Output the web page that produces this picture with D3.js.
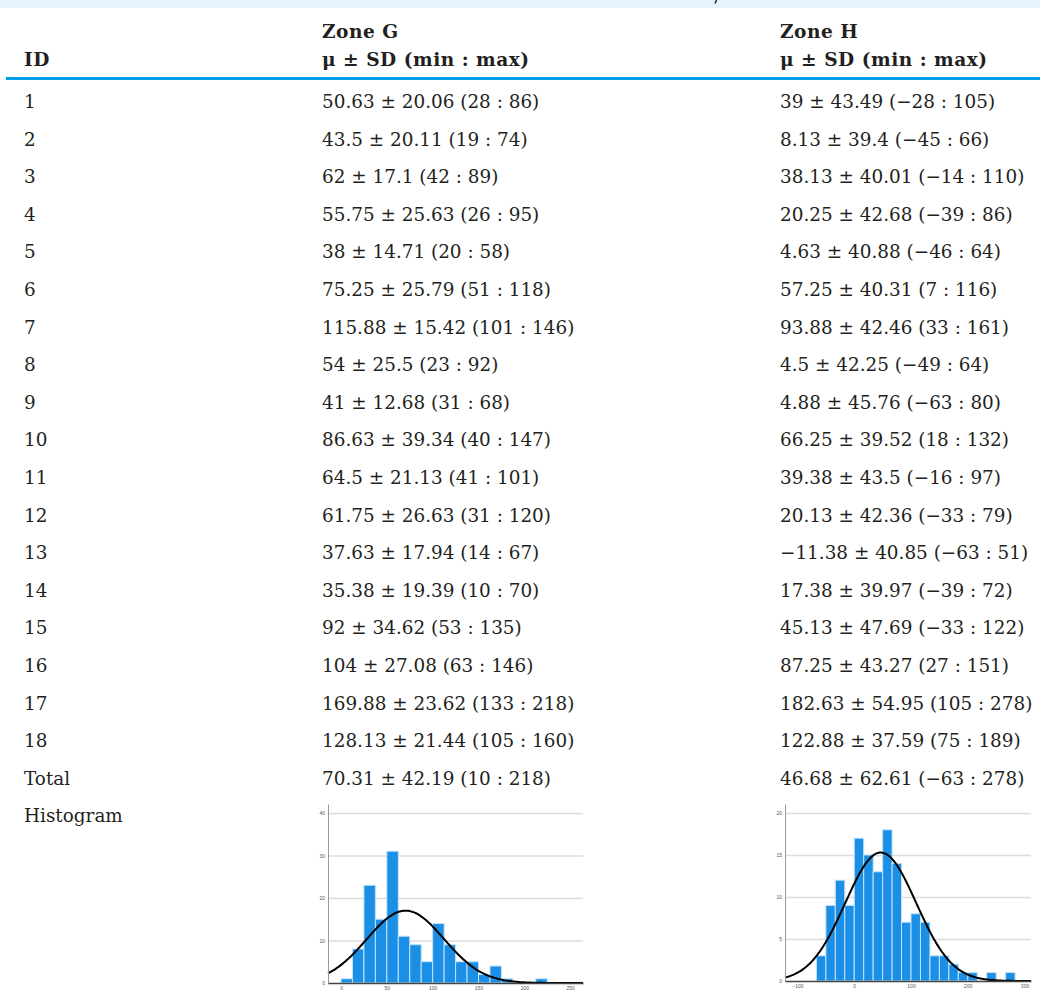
<!DOCTYPE html>
<html>
<head>
<meta charset="utf-8">
<script src="https://cdn.jsdelivr.net/npm/d3@7"></script>
<style>
  body { margin: 0; background: #fff; }
  svg { display: block; }
</style>
</head>
<body>
<div id="chart"></div>
<script>
// table rows
var idLabels = ["1", "2", "3", "4", "5", "6", "7", "8", "9", "10", "11", "12", "13", "14", "15", "16", "17", "18", "Total"];

// Zone G stats
var gMean = [50.63, 43.5, 62, 55.75, 38, 75.25, 115.88, 54, 41, 86.63, 64.5, 61.75, 37.63, 35.38, 92, 104, 169.88, 128.13, 70.31];
var gSd = [20.06, 20.11, 17.1, 25.63, 14.71, 25.79, 15.42, 25.5, 12.68, 39.34, 21.13, 26.63, 17.94, 19.39, 34.62, 27.08, 23.62, 21.44, 42.19];
var gMin = [28, 19, 42, 26, 20, 51, 101, 23, 31, 40, 41, 31, 14, 10, 53, 63, 133, 105, 10];
var gMax = [86, 74, 89, 95, 58, 118, 146, 92, 68, 147, 101, 120, 67, 70, 135, 146, 218, 160, 218];

// Zone H stats
var hMean = [39, 8.13, 38.13, 20.25, 4.63, 57.25, 93.88, 4.5, 4.88, 66.25, 39.38, 20.13, -11.38, 17.38, 45.13, 87.25, 182.63, 122.88, 46.68];
var hSd = [43.49, 39.4, 40.01, 42.68, 40.88, 40.31, 42.46, 42.25, 45.76, 39.52, 43.5, 42.36, 40.85, 39.97, 47.69, 43.27, 54.95, 37.59, 62.61];
var hMin = [-28, -45, -14, -39, -46, 7, 33, -49, -63, 18, -16, -33, -63, -39, -33, 27, 105, 75, -63];
var hMax = [105, 66, 110, 86, 64, 116, 161, 64, 80, 132, 97, 79, 51, 72, 122, 151, 278, 189, 278];

// histogram counts
var gCounts = [1, 8, 23, 15, 31, 11, 9, 5, 14, 9, 5, 5, 2, 4, 1, 0, 0, 1];
var gBinStart = 0, gBinWidth = 12.5;
var gXTicks = [0, 50, 100, 150, 200, 250];
var gYTicks = [0, 10, 20, 30, 40];

var hCounts = [3, 9, 12, 9, 17, 15, 13, 18, 14, 7, 8, 7, 3, 3, 2, 1, 1, 0, 1, 0, 1];
var hBinStart = -200 / 3, hBinWidth = 50 / 3;
var hXTicks = [-100, 0, 100, 200, 300];
var hYTicks = [0, 5, 10, 15, 20];

// ---- canvas ----
var svgWidth = 1040;
var svgHeight = 990;

var svg = d3.select("#chart")
    .append("svg")
    .attr("width", svgWidth)
    .attr("height", svgHeight)
    .style("background", "#fff");

var serif = "'DejaVu Serif', serif";
var colId = 24, colG = 322, colH = 780;

// top band (bottom of the caption above, cropped)
svg.append("rect")
    .attr("x", 0).attr("y", 0)
    .attr("width", svgWidth).attr("height", 8)
    .attr("fill", "#e6f3fc");
svg.append("path")
    .attr("d", "M716.5,0 L715,3.5")
    .attr("stroke", "#333")
    .attr("stroke-width", 1.6)
    .attr("fill", "none");

// header
var header = svg.append("g")
    .attr("font-family", serif)
    .attr("font-size", 18.6)
    .attr("font-weight", "bold")
    .attr("letter-spacing", 0.5)
    .attr("fill", "#231f20");
header.append("text").attr("x", colId).attr("y", 66).text("ID");
header.append("text").attr("x", colG).attr("y", 38).text("Zone G");
header.append("text").attr("x", colG).attr("y", 66).text("\u03bc \u00b1 SD (min : max)");
header.append("text").attr("x", colH).attr("y", 38).text("Zone H");
header.append("text").attr("x", colH).attr("y", 66).text("\u03bc \u00b1 SD (min : max)");

svg.append("rect")
    .attr("x", 6).attr("y", 77)
    .attr("width", svgWidth - 6).attr("height", 3)
    .attr("fill", "#00a0e9");

// rows
var rowNames = idLabels.concat(["Histogram"]);
var yRow = d3.scaleLinear()
    .domain([0, rowNames.length - 1])
    .range([108, 108 + (rowNames.length - 1) * 37.6]);

function fmt(v) {
    var s = String(Math.abs(v));
    return (v < 0 ? "\u2212" : "") + s;
}
function cell(mean, sd, mn, mx) {
    return fmt(mean) + " \u00b1 " + fmt(sd) + " (" + fmt(mn) + " : " + fmt(mx) + ")";
}

var body = svg.append("g")
    .attr("font-family", serif)
    .attr("font-size", 18.4)
    .attr("fill", "#231f20");

body.selectAll("text.id")
    .data(rowNames)
    .enter().append("text")
    .attr("class", "id")
    .attr("x", colId)
    .attr("y", (d, i) => yRow(i))
    .text(d => d);

body.selectAll("text.g")
    .data(idLabels)
    .enter().append("text")
    .attr("class", "g")
    .attr("x", colG)
    .attr("y", (d, i) => yRow(i))
    .text((d, i) => cell(gMean[i], gSd[i], gMin[i], gMax[i]));

body.selectAll("text.h")
    .data(idLabels)
    .enter().append("text")
    .attr("class", "h")
    .attr("x", colH)
    .attr("y", (d, i) => yRow(i))
    .text((d, i) => cell(hMean[i], hSd[i], hMin[i], hMax[i]));

// ---- histograms ----
function drawHist(opt) {
    var x = d3.scaleLinear().domain(opt.xDomain).range(opt.xRange);
    var y = d3.scaleLinear().domain(opt.yDomain).range(opt.yRange);
    var g = svg.append("g");

    // gridlines
    var grid = g.append("g")
        .attr("transform", `translate(${opt.xRange[0]},0)`)
        .call(d3.axisLeft(y).tickValues(opt.yTicks.filter(t => t > 0))
            .tickSize(-(opt.xRange[1] - opt.xRange[0])).tickFormat(""));
    grid.select(".domain").remove();
    grid.selectAll("line").attr("stroke", "#dcdcdc").attr("stroke-width", 1.5);

    // bars
    var bins = opt.counts.map((c, i) => ({
        x0: opt.binStart + i * opt.binWidth,
        x1: opt.binStart + (i + 1) * opt.binWidth,
        n: c
    })).filter(b => b.n > 0);

    g.selectAll("rect.bar")
        .data(bins)
        .enter().append("rect")
        .attr("class", "bar")
        .attr("x", d => x(d.x0))
        .attr("y", d => y(d.n))
        .attr("width", d => x(d.x1) - x(d.x0))
        .attr("height", d => y(0) - y(d.n))
        .attr("fill", "#1a8fe5")
        .attr("stroke", "#c4e2f9")
        .attr("stroke-width", 1);

    // fitted normal curve
    var n = d3.sum(opt.counts);
    var pts = d3.range(opt.xDomain[0], opt.xDomain[1], (opt.xDomain[1] - opt.xDomain[0]) / 200)
        .concat([opt.xDomain[1]]);
    var curve = d3.line()
        .x(d => x(d))
        .y(d => y(n * opt.binWidth / (opt.sd * Math.sqrt(2 * Math.PI)) *
            Math.exp(-0.5 * Math.pow((d - opt.mean) / opt.sd, 2))))
        .curve(d3.curveBasis);
    g.append("path")
        .datum(pts)
        .attr("d", curve)
        .attr("fill", "none")
        .attr("stroke", "#000")
        .attr("stroke-width", 2);

    // axes
    var yAxis = g.append("g")
        .attr("transform", `translate(${opt.xRange[0]},0)`)
        .call(d3.axisLeft(y).tickValues(opt.yTicks).tickSize(0).tickPadding(3));
    yAxis.select(".domain").attr("stroke", "#999").attr("stroke-width", 1);
    yAxis.selectAll("text").attr("font-size", 5).attr("fill", "#555")
        .attr("font-family", "'Liberation Sans', sans-serif");

    var xAxis = g.append("g")
        .attr("transform", `translate(0,${opt.yRange[0]})`)
        .call(d3.axisBottom(x).tickValues(opt.xTicks).tickSize(0).tickPadding(3)
            .tickFormat(d3.format("d")));
    xAxis.select(".domain").attr("stroke", "#444").attr("stroke-width", 1.5);
    xAxis.selectAll("text").attr("font-size", 5).attr("fill", "#555")
        .attr("font-family", "'Liberation Sans', sans-serif");
}

drawHist({
    counts: gCounts, binStart: gBinStart, binWidth: gBinWidth,
    mean: gMean[18], sd: gSd[18],
    xDomain: [-14.2, 264], xRange: [328, 583],
    yDomain: [0, 42.1], yRange: [983, 804],
    xTicks: gXTicks, yTicks: gYTicks
});

drawHist({
    counts: hCounts, binStart: hBinStart, binWidth: hBinWidth,
    mean: hMean[18], sd: hSd[18],
    xDomain: [-122, 311.4], xRange: [785, 1031],
    yDomain: [0, 21.07], yRange: [981, 804],
    xTicks: hXTicks, yTicks: hYTicks
});
</script>
</body>
</html>
